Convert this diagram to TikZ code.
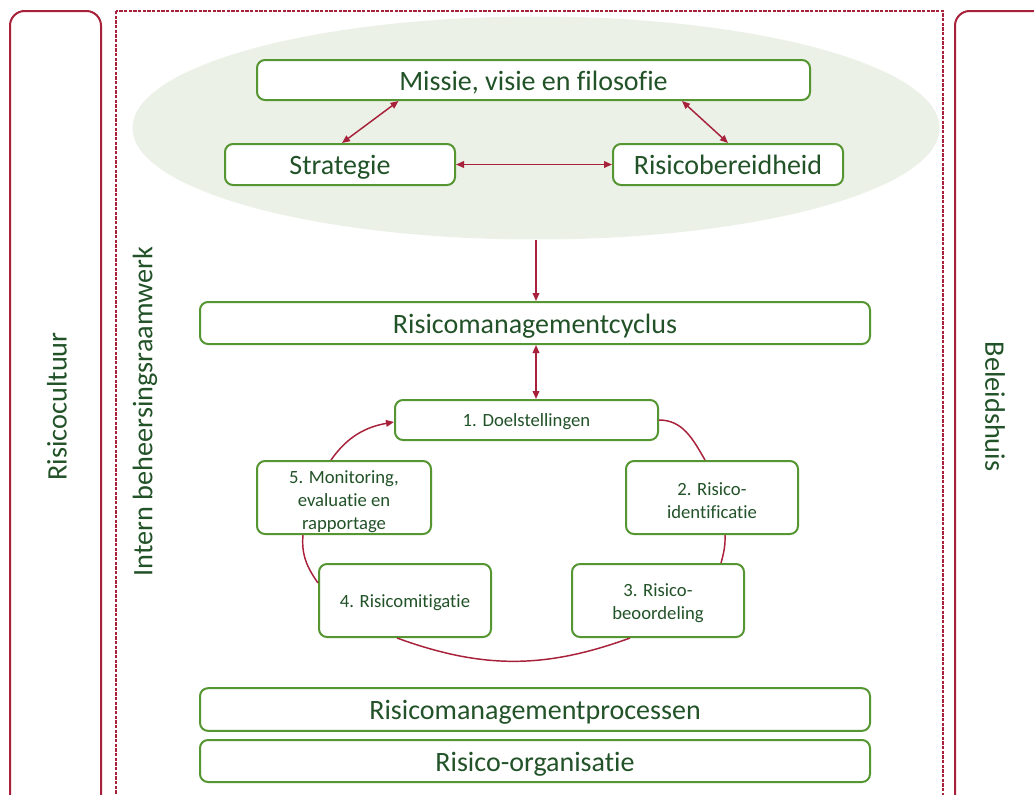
\documentclass[tikz,border=0pt]{standalone}
\usepackage{fontspec}
\setmainfont{Carlito}[Ligatures=NoCommon]
\usetikzlibrary{arrows.meta,calc}
\definecolor{myred}{RGB}{168,33,58}
\definecolor{boxgreen}{RGB}{86,150,50}
\definecolor{txtgreen}{RGB}{34,82,40}
\definecolor{ellfill}{RGB}{235,241,231}
\begin{document}
\begin{tikzpicture}[x=0.75pt,y=-0.75pt,
  gbox/.style={draw=boxgreen,line width=1.5pt,rounded corners=6pt,fill=white,text=txtgreen,inner sep=0pt,align=center},
  bigtxt/.style={font=\fontsize{21}{24}\selectfont,text height=15.4pt,text depth=0pt},
  smalltxt/.style={font=\fontsize{14}{17.25}\selectfont,text height=10.2pt,text depth=0pt},
  multitxt/.style={font=\fontsize{14}{17.25}\selectfont,text=txtgreen,align=center,inner sep=0pt},
  sidebox/.style={draw=myred,line width=1.5pt,rounded corners=11pt},
  sidetxt/.style={text=txtgreen,font=\fontsize{21.2}{24}\selectfont},
  dbl/.style={draw=myred,line width=1.1pt,{Triangle[length=6pt,width=5pt]}-{Triangle[length=6pt,width=5pt]}},
  sgl/.style={draw=myred,line width=1.1pt,-{Triangle[length=6pt,width=5pt]}},
  cyc/.style={draw=myred,line width=1.1pt}
]
\useasboundingbox (0,0) rectangle (1034,794);
\clip (0,0) rectangle (1034,794);
\fill[white] (0,0) rectangle (1034,794);

% side frames
\draw[sidebox] (10,11) rectangle (101,830);
\draw[sidebox] (955,11) rectangle (1060,830);
\draw[myred,line width=1pt,dash pattern=on 2.5pt off 1pt] (116,11) rectangle (943,830);

\node[sidetxt,rotate=90] (cult) at (57,406.5) {Risicocultuur};
\node[sidetxt,rotate=90] (ibr) at (145,411.5) {Intern beheersingsraamwerk};
\node[sidetxt,rotate=-90] (bel) at (995,406.5) {Beleidshuis};

% ellipse
\fill[ellfill] (536,128) ellipse [x radius=302.6pt, y radius=83.6pt];
\coordinate (ellb) at (536,240);

% top boxes
\node[gbox,bigtxt,minimum width=414.75pt,minimum height=30pt] (mis) at (533.5,80) {Missie, visie en filosofie};
\node[gbox,bigtxt,minimum width=172.5pt,minimum height=30.75pt] (str) at (340,164.5) {Strategie};
\node[gbox,bigtxt,minimum width=172.5pt,minimum height=30.75pt] (rb) at (728,164.5) {Risicobereidheid};

\draw[dbl] ($(str.north)+(2,0)$) -- ($(mis.south)+(-135,0)$);
\draw[dbl] ($(rb.north)+(0,0)$) -- ($(mis.south)+(148.5,0)$);
\draw[dbl] (str.east) -- (rb.west);

% middle
\node[gbox,bigtxt,minimum width=502.5pt,minimum height=31.5pt] (rmc) at (535,323) {Risicomanagementcyclus};
\draw[sgl] (ellb) -- ($(rmc.north)+(1,0)$);

\node[gbox,smalltxt,minimum width=197.25pt,minimum height=30pt] (d1) at (526.5,420) {1. Doelstellingen};
\draw[dbl] ($(rmc.south)+(1,0)$) -- ($(d1.north)+(9.5,0)$);

\node[gbox,minimum width=129pt,minimum height=54.75pt] (b2) at (712,497.5) {};
\node[multitxt] (b2t) at ($(b2.center)+(0,3)$) {2. Risico-\\identificatie};
\node[gbox,minimum width=129pt,minimum height=54.75pt] (b3) at (658,600.5) {};
\node[multitxt] (b3t) at ($(b3.center)+(0,3)$) {3. Risico-\\beoordeling};
\node[gbox,smalltxt,minimum width=129pt,minimum height=54.75pt] (b4) at (405,600.5) {4. Risicomitigatie};
\node[gbox,minimum width=130.5pt,minimum height=54.75pt] (b5) at (344,497.5) {};
\node[multitxt] (b5t) at ($(b5.center)+(0,4)$) {5. Monitoring,\\evaluatie en\\rapportage};

\draw[cyc] (d1.east) to[out=0,in=120] ($(b2.north)+(-7,0)$);
\draw[cyc] ($(b2.south)+(13,0)$) to[out=-88,in=75] ($(b3.north)+(63,0)$);
\draw[cyc] ($(b3.south)+(-28,0)$) to[out=-160,in=-20] ($(b4.south)+(-8,0)$);
\draw[cyc] ($(b5.south)+(-41,0)$) to[out=-95,in=125] ($(b4.west)+(0,-17.5)$);
\draw[sgl] ($(b5.north)+(-13,0)$) to[out=55,in=190] ($(d1.west)+(0,2)$);

% bottom
\node[gbox,bigtxt,minimum width=502.5pt,minimum height=32pt] (rmp) at (535,709.5) {Risicomanagementprocessen};
\node[gbox,bigtxt,minimum width=502.5pt,minimum height=31.5pt] (rorg) at (535,761) {Risico-organisatie};
\end{tikzpicture}
\end{document}
